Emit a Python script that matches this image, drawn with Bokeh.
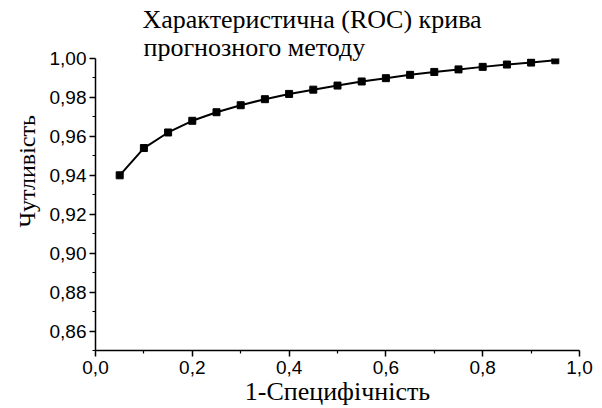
from bokeh.plotting import figure
from bokeh.embed import file_html
from bokeh.resources import INLINE
from bokeh.models import FixedTicker, CustomJSTickFormatter, Range1d, Title

# Data
fpr = [0.05, 0.10, 0.15, 0.20, 0.25, 0.30, 0.35, 0.40, 0.45, 0.50,
       0.55, 0.60, 0.65, 0.70, 0.75, 0.80, 0.85, 0.90, 0.95]
tpr = [0.940, 0.954, 0.962, 0.968, 0.9724, 0.9760, 0.9791, 0.9818, 0.9840, 0.9861,
       0.9882, 0.9899, 0.9916, 0.9931, 0.9944, 0.9957, 0.9969, 0.9979, 0.9991]
x_ticks = [0.0, 0.2, 0.4, 0.6, 0.8, 1.0]
x_minor = [0.1, 0.3, 0.5, 0.7, 0.9]
y_ticks = [0.86, 0.88, 0.90, 0.92, 0.94, 0.96, 0.98, 1.00]
y_minor = [0.85, 0.87, 0.89, 0.91, 0.93, 0.95, 0.97, 0.99]
title_lines = ["Характеристична (ROC) крива", "прогнозного методу"]
x_label = "1-Специфічність"
y_label = "Чутливість"

p = figure(width=602, height=408, output_backend="svg", toolbar_location=None,
           x_range=Range1d(0.0, 1.0), y_range=Range1d(0.85, 1.0),
           min_border_left=95, min_border_right=23, min_border_top=58,
           min_border_bottom=57)
p.background_fill_color = "white"
p.border_fill_color = "white"
p.outline_line_color = None
p.grid.visible = False

p.line(fpr, tpr, line_color="black", line_width=2)
p.scatter(fpr, tpr, marker="square", size=7, fill_color="black", line_color="black")

p.xaxis.ticker = FixedTicker(ticks=x_ticks, minor_ticks=x_minor)
p.yaxis.ticker = FixedTicker(ticks=y_ticks, minor_ticks=y_minor)
p.xaxis.formatter = CustomJSTickFormatter(code="return tick.toFixed(1).replace('.', ',');")
p.yaxis.formatter = CustomJSTickFormatter(code="return tick.toFixed(2).replace('.', ',');")

for ax in (p.xaxis, p.yaxis):
    ax.axis_line_color = "black"
    ax.axis_line_width = 1.5
    ax.major_tick_line_color = "black"
    ax.major_tick_line_width = 1.5
    ax.minor_tick_line_color = "black"
    ax.minor_tick_line_width = 1.2
    ax.major_tick_in = 0
    ax.major_tick_out = 6
    ax.minor_tick_in = 0
    ax.minor_tick_out = 3
    ax.major_label_text_font = "Liberation Sans"
    ax.major_label_text_font_size = "19px"
    ax.major_label_text_color = "black"

p.xaxis.major_label_standoff = 4
p.yaxis.major_label_standoff = 3

p.xaxis.axis_label = x_label
p.xaxis.axis_label_text_font = "Liberation Serif"
p.xaxis.axis_label_text_font_size = "26px"
p.xaxis.axis_label_text_font_style = "normal"
p.xaxis.axis_label_text_color = "black"
p.xaxis.axis_label_standoff = 0

ylab = Title(text=y_label, align="left", offset=123, standoff=14,
             text_font="Liberation Serif", text_font_size="24px",
             text_font_style="normal", text_color="black")
p.add_layout(ylab, "left")

t2 = Title(text=title_lines[1], align="left", offset=48, standoff=-6,
           text_font="Liberation Serif", text_font_size="26px",
           text_font_style="normal", text_color="black")
t1 = Title(text=title_lines[0], align="left", offset=47, standoff=0,
           text_font="Liberation Serif", text_font_size="26px",
           text_font_style="normal", text_color="black")
p.add_layout(t2, "above")
p.add_layout(t1, "above")

open("out.html", "w").write(file_html(p, INLINE))
